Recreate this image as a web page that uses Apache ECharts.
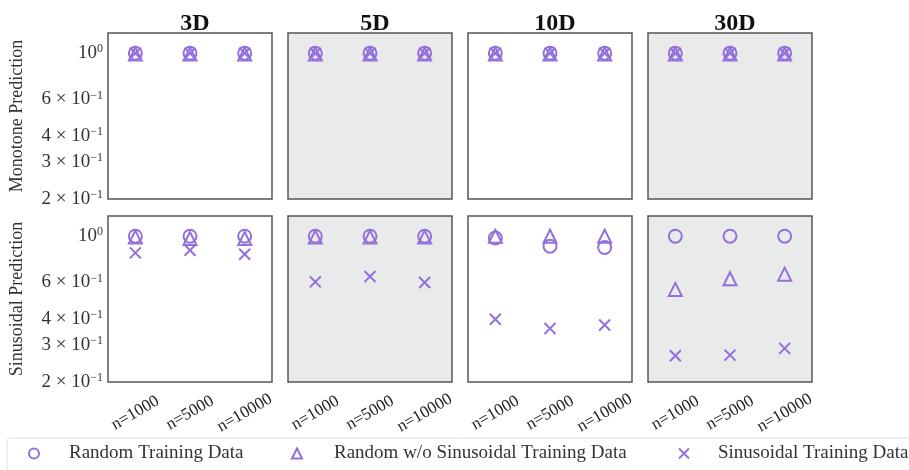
<!DOCTYPE html>
<html>
<head>
<meta charset="utf-8">
<script src="https://cdn.jsdelivr.net/npm/echarts@6/dist/echarts.min.js"></script>
<style>
  html, body { margin: 0; padding: 0; background: #fff; }
  #chart { width: 909px; height: 470px; }
</style>
</head>
<body>
<div id="chart"></div>
<script>
// panels: columns = dimensions, rows = prediction task
const dims = ["3D", "5D", "10D", "30D"];
const rowNames = ["Monotone Prediction", "Sinusoidal Prediction"];
const sampleSizes = ["n=1000", "n=5000", "n=10000"];
const seriesNames = [
  "Random Training Data",
  "Random w/o Sinusoidal Training Data",
  "Sinusoidal Training Data",
];

// values per dimension (3D, 5D, 10D, 30D), each for n=1000, 5000, 10000
const monoRandom = [[1, 1, 1], [1, 1, 1], [1, 1, 1], [1, 1, 1]];
const monoNoSin = [[0.99, 0.99, 0.99], [0.99, 0.99, 0.99], [0.99, 0.99, 0.99], [0.99, 0.99, 0.99]];
const monoSin = [[1, 1, 1], [1, 1, 1], [1, 1, 1], [1, 1, 1]];

const sinRandom = [[1.0, 1.0, 1.0], [1.0, 1.0, 1.0], [0.98, 0.896, 0.883], [1.0, 1.0, 1.0]];
const sinNoSin = [[0.99, 0.975, 0.975], [0.99, 0.99, 0.99], [1.0, 1.0, 1.0], [0.556, 0.625, 0.658]];
const sinSin = [[0.832, 0.857, 0.82], [0.604, 0.641, 0.6], [0.4, 0.361, 0.375], [0.267, 0.269, 0.29]];

const yLabelValues = [0.2, 0.3, 0.4, 0.6, 1];
const yTickValues = [0.2, 0.3, 0.4, 0.5, 0.6, 0.7, 0.8, 0.9, 1];
const yLabelText = {
  0.2: ["2 × 10", "−1"],
  0.3: ["3 × 10", "−1"],
  0.4: ["4 × 10", "−1"],
  0.6: ["6 × 10", "−1"],
  1: ["10", "0"],
};

const purple = "#9370db";
const font = "Liberation Serif";
const xPath = "path://M0,0L10,10M10,0L0,10";
const symbols = ["circle", "triangle", xPath];
const symbolSizes = [13, 13, 11];
const rows = [
  [monoRandom, monoNoSin, monoSin],
  [sinRandom, sinNoSin, sinSin],
];

const grids = [], xAxes = [], yAxes = [], series = [], titles = [];
for (let r = 0; r < 2; r++) {
  for (let c = 0; c < 4; c++) {
    const idx = r * 4 + c;
    const left = 108 + 180 * c;
    grids.push({
      left: left,
      top: r === 0 ? 33 : 216,
      width: 164,
      height: 166,
      show: true,
      backgroundColor: c % 2 === 1 ? "#e9eaea" : "#fff",
      borderColor: "#555",
      borderWidth: 1.5,
    });
    xAxes.push({
      type: "category",
      gridIndex: idx,
      data: sampleSizes,
      boundaryGap: true,
      axisLine: { show: false },
      axisTick: { alignWithLabel: true, length: 4, lineStyle: { color: "#222", width: 1.2 } },
      axisLabel: {
        show: r === 1,
        rotate: 30,
        align: "center",
        verticalAlign: "middle",
        margin: 31,
        color: "#222",
        fontFamily: font,
        fontSize: 17,
      },
      splitLine: { show: false },
    });
    yAxes.push({
      type: "log",
      logBase: 10,
      gridIndex: idx,
      min: 0.2,
      max: 1.25,
      name: c === 0 ? rowNames[r] : "",
      nameLocation: "middle",
      nameRotate: 90,
      nameGap: 82,
      nameTextStyle: { fontFamily: font, fontSize: 18, color: "#333" },
      axisLine: { show: false },
      axisTick: { customValues: yTickValues, length: 3, lineStyle: { color: "#222", width: 1 } },
      axisLabel: {
        show: c === 0,
        customValues: yLabelValues,
        margin: 5,
        formatter: function (v) {
          const key = Math.round(v * 10) / 10;
          const t = yLabelText[key];
          return t ? "{b|" + t[0] + "}{s|" + t[1] + "}" : "";
        },
        rich: {
          b: { fontFamily: font, fontSize: 19, color: "#333" },
          s: { fontFamily: font, fontSize: 12, color: "#333", verticalAlign: "top", padding: [0, 0, 8, 0] },
        },
      },
      splitLine: { show: false },
    });
    for (let s = 0; s < 3; s++) {
      series.push({
        name: seriesNames[s],
        type: "scatter",
        xAxisIndex: idx,
        yAxisIndex: idx,
        symbol: symbols[s],
        symbolSize: symbolSizes[s],
        itemStyle: { color: "rgba(0,0,0,0)", borderColor: purple, borderWidth: 2, opacity: 1 },
        emphasis: { disabled: true },
        data: rows[r][s][c],
      });
    }
    if (r === 0) {
      titles.push({
        text: dims[c],
        left: left + 82,
        top: 7,
        textAlign: "center",
        textStyle: { fontFamily: font, fontWeight: "bold", fontSize: 24, color: "#111" },
      });
    }
  }
}

// legend: one legend per entry so the spacing matches
const legendLefts = [28, 291, 678];
const legendPads = [25, 27, 24];
const legends = seriesNames.map((name, i) => ({
  data: [name],
  left: legendLefts[i],
  top: 444,
  padding: 0,
  itemWidth: 10,
  itemHeight: 10,
  itemStyle: { color: "rgba(0,0,0,0)", borderColor: purple, borderWidth: 2 },
  textStyle: { fontFamily: font, fontSize: 19, color: "#333", padding: [0, 0, 0, legendPads[i]] },
  selectedMode: false,
}));

const chart = echarts.init(document.getElementById("chart"));
chart.setOption({
  animation: false,
  title: titles,
  grid: grids,
  xAxis: xAxes,
  yAxis: yAxes,
  legend: legends,
  series: series,
  graphic: [
    {
      type: "rect",
      shape: { x: 7, y: 438, width: 920, height: 45, r: 4 },
      style: { fill: "none", stroke: "#ddd", lineWidth: 1 },
      z: -1,
    },
  ],
});
</script>
</body>
</html>
